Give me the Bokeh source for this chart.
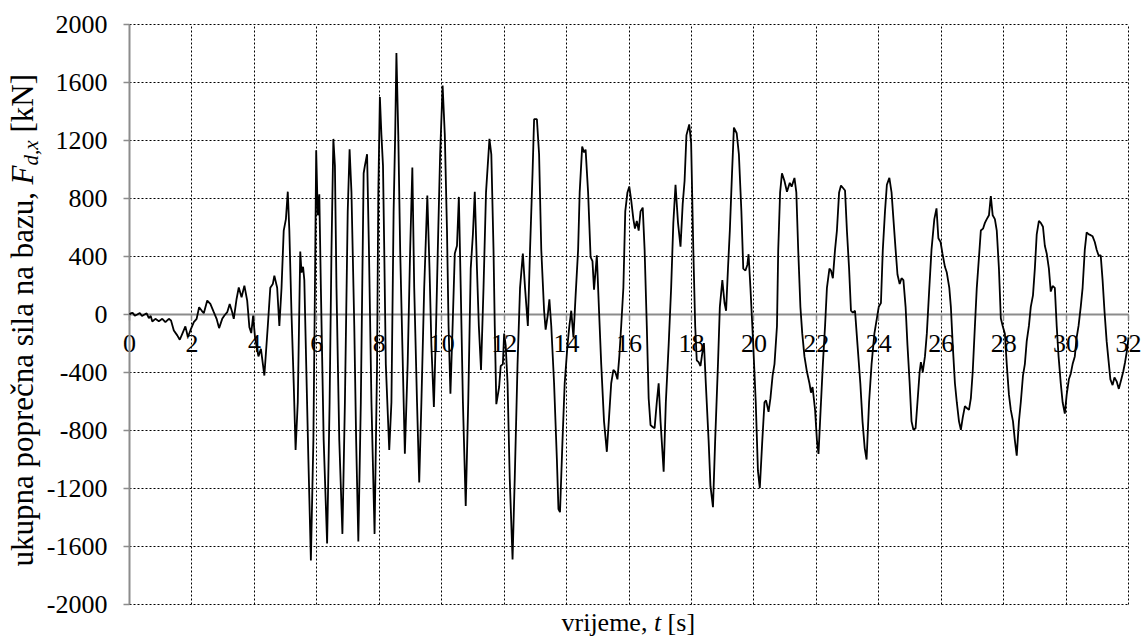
import math
from bokeh.plotting import figure
from bokeh.models import Range1d, FixedTicker, Label, Grid
from bokeh.embed import file_html
from bokeh.resources import INLINE

# ---------------- data ----------------
time_s = [
    0.00, 0.05, 0.10, 0.17, 0.25, 0.33, 0.40, 0.48, 0.55, 0.62, 0.68, 0.73, 0.83, 0.94,
    1.05, 1.15, 1.26, 1.33, 1.42, 1.53, 1.61, 1.69, 1.79, 1.87, 1.95, 2.06, 2.15, 2.23,
    2.31, 2.38, 2.49, 2.59, 2.70, 2.79, 2.87, 2.97, 3.04, 3.13, 3.21, 3.29, 3.34, 3.43,
    3.50, 3.59, 3.68, 3.77, 3.84, 3.90, 3.96, 4.02, 4.13, 4.21, 4.32, 4.43, 4.51, 4.59,
    4.64, 4.73, 4.80, 4.87, 4.94, 5.01, 5.07, 5.12, 5.19, 5.26, 5.32, 5.39, 5.43, 5.47,
    5.51, 5.56, 5.60, 5.66, 5.73, 5.81, 5.89, 5.94, 5.98, 6.03, 6.08, 6.13, 6.22, 6.33,
    6.41, 6.47, 6.53, 6.58, 6.63, 6.72, 6.82, 6.90, 6.99, 7.05, 7.11, 7.20, 7.26, 7.33,
    7.41, 7.50, 7.54, 7.61, 7.67, 7.75, 7.85, 7.93, 7.97, 8.02, 8.07, 8.12, 8.16, 8.21,
    8.32, 8.39, 8.46, 8.51, 8.55, 8.61, 8.67, 8.74, 8.82, 8.91, 8.99, 9.06, 9.12, 9.21,
    9.28, 9.35, 9.44, 9.54, 9.61, 9.67, 9.75, 9.82, 9.89, 9.95, 10.03, 10.10, 10.17, 10.22,
    10.28, 10.35, 10.42, 10.49, 10.55, 10.61, 10.68, 10.77, 10.85, 10.93, 11.00, 11.06, 11.13, 11.19,
    11.26, 11.34, 11.42, 11.53, 11.59, 11.66, 11.70, 11.75, 11.84, 11.89, 11.96, 12.00, 12.05, 12.11,
    12.18, 12.27, 12.34, 12.43, 12.51, 12.60, 12.67, 12.76, 12.83, 12.91, 12.96, 13.05, 13.12, 13.19,
    13.28, 13.33, 13.40, 13.45, 13.51, 13.60, 13.69, 13.74, 13.79, 13.87, 13.94, 14.03, 14.09, 14.15,
    14.22, 14.29, 14.37, 14.42, 14.50, 14.56, 14.61, 14.69, 14.77, 14.83, 14.88, 14.97, 15.04, 15.11,
    15.20, 15.29, 15.36, 15.43, 15.50, 15.56, 15.63, 15.69, 15.75, 15.82, 15.88, 15.95, 16.01, 16.07,
    16.14, 16.19, 16.25, 16.31, 16.37, 16.44, 16.50, 16.57, 16.63, 16.69, 16.76, 16.82, 16.89, 16.95,
    17.01, 17.11, 17.18, 17.27, 17.35, 17.42, 17.49, 17.57, 17.65, 17.72, 17.78, 17.84, 17.93, 17.99,
    18.06, 18.12, 18.17, 18.23, 18.29, 18.35, 18.40, 18.46, 18.55, 18.61, 18.69, 18.76, 18.85, 18.91,
    18.99, 19.06, 19.11, 19.17, 19.23, 19.30, 19.36, 19.45, 19.52, 19.60, 19.66, 19.73, 19.79, 19.83,
    19.89, 19.98, 20.06, 20.13, 20.19, 20.27, 20.34, 20.39, 20.47, 20.53, 20.60, 20.66, 20.74, 20.78,
    20.84, 20.90, 20.98, 21.06, 21.15, 21.21, 21.30, 21.36, 21.42, 21.49, 21.55, 21.62, 21.70, 21.78,
    21.83, 21.88, 21.96, 22.02, 22.07, 22.15, 22.21, 22.28, 22.34, 22.42, 22.47, 22.53, 22.60, 22.66,
    22.73, 22.79, 22.85, 22.92, 22.98, 23.05, 23.11, 23.17, 23.24, 23.32, 23.41, 23.48, 23.55, 23.61,
    23.69, 23.77, 23.86, 23.92, 24.00, 24.07, 24.13, 24.20, 24.26, 24.34, 24.41, 24.47, 24.54, 24.60,
    24.67, 24.73, 24.79, 24.86, 24.92, 24.99, 25.05, 25.11, 25.18, 25.24, 25.31, 25.35, 25.41, 25.48,
    25.54, 25.62, 25.69, 25.78, 25.85, 25.91, 25.98, 26.04, 26.12, 26.18, 26.26, 26.31, 26.37, 26.44,
    26.50, 26.57, 26.63, 26.69, 26.76, 26.82, 26.89, 26.95, 27.01, 27.08, 27.14, 27.21, 27.27, 27.34,
    27.40, 27.46, 27.53, 27.59, 27.65, 27.72, 27.78, 27.85, 27.91, 27.97, 28.04, 28.10, 28.17, 28.23,
    28.30, 28.36, 28.42, 28.49, 28.55, 28.62, 28.68, 28.74, 28.81, 28.87, 28.94, 29.00, 29.06, 29.13,
    29.19, 29.26, 29.32, 29.38, 29.45, 29.51, 29.57, 29.64, 29.70, 29.76, 29.83, 29.89, 29.96, 30.02,
    30.09, 30.15, 30.21, 30.28, 30.34, 30.40, 30.47, 30.53, 30.60, 30.66, 30.73, 30.79, 30.85, 30.92,
    30.98, 31.04, 31.11, 31.17, 31.23, 31.30, 31.36, 31.42, 31.49, 31.55, 31.62, 31.69, 31.77, 31.83,
    31.89, 31.96, 32.00,
]
force_kN = [
    0, 10, 12, -8, 0, 10, -10, 0, 8, -25, -10, -48, -30, -46,
    -30, -53, -30, -41, -110, -144, -174, -133, -82, -155, -110, -53, -30, 50,
    27, 9, 96, 73, 16, -30, -94, -30, -7, 16, 73, 16, -30, 107,
    187, 119, 199, 96, -87, -128, -7, -158, -289, -237, -421, -79, 184, 210,
    268, 184, -79, 184, 579, 658, 847, 579, 0, -474, -934, -605, -79, 434,
    289, 329, 237, -342, -1000, -1697, -868, 184, 1132, 684, 829, 184, -868, -1579,
    -605, 447, 1211, 1026, 184, -868, -1513, -605, 711, 1139, 842, -79, -868, -1566,
    -605, 974, 1026, 1105, 447, -605, -1513, -342, 842, 1500, 1237, 1026, 447, -342,
    -934, -605, 711, 1237, 1803, 1237, 447, -211, -961, -342, 447, 1013, 184, -605,
    -1158, -605, 184, 821, 316, -211, -637, -79, 579, 1105, 1579, 1237, 579, -79,
    -547, -79, 421, 474, 811, 184, -605, -1321, -605, 316, 553, 847, 316, -79,
    -382, 184, 842, 1211, 1105, 447, -79, -618, -500, -355, -342, -132, -211, -474,
    -1132, -1689, -1132, -342, 184, 421, 184, -79, 447, 974, 1347, 1347, 1105, 447,
    26, -105, 0, 105, -79, -474, -1000, -1342, -1363, -868, -474, -211, -79, 26,
    -158, 132, 447, 842, 1158, 1118, 1137, 842, 395, 368, 171, 408, 26, -342,
    -737, -947, -711, -474, -382, -395, -447, -289, -79, 184, 711, 842, 882, 789,
    658, 592, 645, 579, 711, 737, 447, -79, -579, -763, -776, -784, -605, -474,
    -737, -1084, -605, -211, 184, 632, 895, 632, 468, 763, 921, 1237, 1311, 1184,
    447, -79, -316, -329, -355, -263, -197, -474, -868, -1184, -1329, -868, -342, 53,
    237, 79, 26, 316, 579, 974, 1289, 1250, 1105, 711, 316, 303, 342, 416,
    184, -211, -605, -1079, -1197, -868, -605, -592, -671, -579, -421, -342, -79, 447,
    842, 974, 921, 847, 908, 882, 942, 842, 447, 53, -132, -289, -395, -474,
    -539, -500, -658, -868, -961, -605, -342, -79, 184, 316, 303, 250, 447, 579,
    842, 889, 874, 855, 579, 316, 26, 13, 26, -211, -474, -737, -921, -1000,
    -605, -342, -132, -53, 53, 79, 447, 711, 895, 942, 842, 658, 447, 276,
    210, 250, 237, 53, -211, -474, -737, -795, -784, -605, -395, -329, -395, -289,
    -132, 184, 447, 658, 732, 526, 500, 421, 329, 289, 184, 53, -211, -474,
    -605, -737, -795, -711, -632, -645, -658, -579, -395, -79, 184, 395, 579, 592,
    632, 658, 684, 816, 684, 658, 579, 316, -26, -79, -132, -342, -553, -658,
    -737, -868, -974, -737, -605, -421, -342, -184, -79, 53, 132, 316, 553, 645,
    632, 605, 474, 421, 316, 158, 197, 184, -79, -289, -474, -605, -684, -553,
    -447, -408, -342, -289, -158, -79, 53, 184, 447, 566, 553, 547, 539, 500,
    447, 408, 408, 237, 26, -184, -316, -447, -487, -434, -461, -513, -447, -395,
    -329, -237, -158,
]

x_ticks = [0, 2, 4, 6, 8, 10, 12, 14, 16, 18, 20, 22, 24, 26, 28, 30, 32]
x_tick_labels = ["0", "2", "4", "6", "8", "10", "12", "14", "16", "18", "20",
                 "22", "24", "26", "28", "30", "32"]
y_ticks = [-2000, -1600, -1200, -800, -400, 0, 400, 800, 1200, 1600, 2000]
y_tick_labels = ["-2000", "-1600", "-1200", "-800", "-400", "0", "400", "800",
                 "1200", "1600", "2000"]

x_title_parts = ["vrijeme,", "t", "[s]"]
y_title_parts = ["ukupna poprečna sila na bazu,", "F", "d,x", "[kN]"]

# ---------------- geometry (canvas pixels) ----------------
FONT = "'Liberation Serif', 'Times New Roman', serif"
W, H = 1141, 638
PX_L, PX_R, PX_T, PX_B = 129, 1128, 24, 604     # data rectangle on the canvas
X0, X1, Y0, Y1 = 0, 32, -2000, 2000
fw = (PX_R - PX_L) / (X1 - X0)
fh = (PX_B - PX_T) / (Y1 - Y0)


def data_x(px):
    return X0 + (px - PX_L) / fw


def data_y(py):
    return Y0 + (PX_B - py) / fh


p = figure(width=W, height=H, output_backend="svg", toolbar_location=None,
           x_range=Range1d(data_x(0), data_x(W)), y_range=Range1d(data_y(H), data_y(0)),
           min_border_left=0, min_border_right=0, min_border_top=0,
           min_border_bottom=0)
p.outline_line_color = None
p.background_fill_color = "white"
p.border_fill_color = "white"

# ---------------- grid ----------------
GRID_COL = "#000000"
GRID_DASH = "2 2"
if "cross_bounds" in Grid.properties():
    p.xgrid.ticker = FixedTicker(ticks=x_ticks)
    p.ygrid.ticker = FixedTicker(ticks=y_ticks)
    p.xgrid.bounds = (X0, X1)
    p.xgrid.cross_bounds = (Y0, Y1)
    p.ygrid.bounds = (Y0, Y1)
    p.ygrid.cross_bounds = (X0, X1)
    for g in (p.xgrid, p.ygrid):
        g.grid_line_color = GRID_COL
        g.grid_line_dash = GRID_DASH
        g.grid_line_width = 1
else:
    p.xgrid.visible = False
    p.ygrid.visible = False
    p.segment(x0=x_ticks, y0=[Y0] * len(x_ticks), x1=x_ticks, y1=[Y1] * len(x_ticks),
              line_color=GRID_COL, line_dash=GRID_DASH, line_width=1)
    p.segment(x0=[X0] * len(y_ticks), y0=y_ticks, x1=[X1] * len(y_ticks), y1=y_ticks,
              line_color=GRID_COL, line_dash=GRID_DASH, line_width=1)

# ---------------- axes ----------------
AX_COL = "#8c8c8c"
xa = p.xaxis[0]
xa.ticker = FixedTicker(ticks=x_ticks)
xa.major_label_overrides = dict(zip(x_ticks, x_tick_labels))
xa.fixed_location = 0
xa.bounds = (X0, X1)
xa.axis_line_color = AX_COL
xa.axis_line_width = 2
xa.major_tick_line_color = AX_COL
xa.major_tick_line_width = 1.5
xa.major_tick_in = 0
xa.major_tick_out = 6
xa.minor_tick_line_color = None
xa.major_label_text_font = FONT
xa.major_label_text_font_size = "26px"
xa.major_label_text_color = "black"
xa.major_label_standoff = 14

ya = p.yaxis[0]
ya.ticker = FixedTicker(ticks=y_ticks)
ya.major_label_overrides = dict(zip(y_ticks, y_tick_labels))
ya.fixed_location = 0
ya.bounds = (Y0, Y1)
ya.axis_line_color = AX_COL
ya.axis_line_width = 2
ya.major_tick_line_color = AX_COL
ya.major_tick_line_width = 1.5
ya.major_tick_in = 0
ya.major_tick_out = 6
ya.minor_tick_line_color = None
ya.major_label_text_font = FONT
ya.major_label_text_font_size = "26px"
ya.major_label_text_color = "black"
ya.major_label_standoff = 16

r = p.line(time_s, force_kN, line_color="black", line_width=1.8)
r.level = "annotation"

# ---------------- axis titles (mixed italic) ----------------
xs = data_x(561)
ym = data_y(622)
x_offsets = [0, 92.4, 106.1]
x_styles = ["normal", "italic", "normal"]
for txt, off, st in zip(x_title_parts, x_offsets, x_styles):
    p.add_layout(Label(x=xs, y=ym, x_offset=off, text=txt, text_font=FONT,
                       text_font_size="26px", text_font_style=st,
                       text_align="left", text_baseline="middle",
                       text_color="black"))

yx = data_x(22)
ys = data_y(566)
y_offsets = [0, 382, 401, 434]
y_xoff = [0, 0, 8, 0]
y_sizes = ["31px", "31px", "21px", "31px"]
y_styles = ["normal", "italic", "italic", "normal"]
for txt, off, xo, sz, st in zip(y_title_parts, y_offsets, y_xoff, y_sizes, y_styles):
    p.add_layout(Label(x=yx, y=ys, x_offset=xo, y_offset=off, text=txt,
                       angle=math.pi / 2, text_font=FONT, text_font_size=sz,
                       text_font_style=st, text_align="left",
                       text_baseline="middle", text_color="black"))

open("out.html", "w").write(file_html(p, INLINE))
